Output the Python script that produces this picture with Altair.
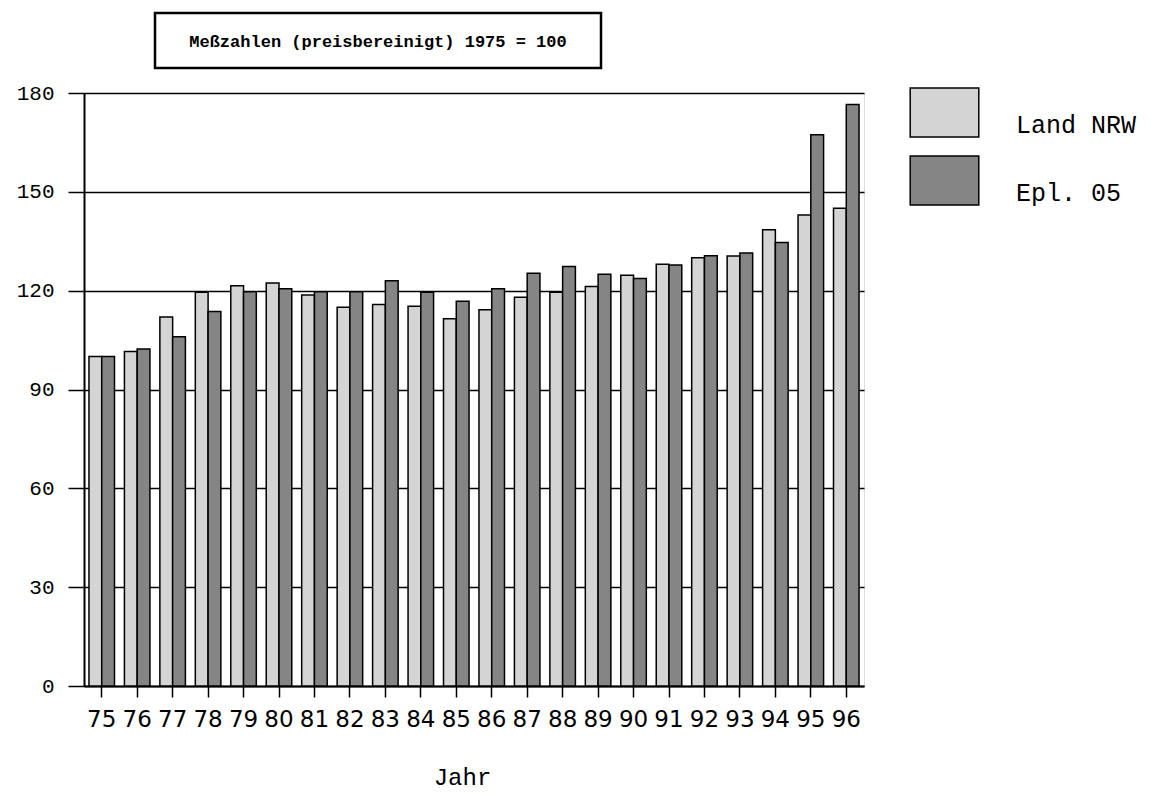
import altair as alt
import pandas as pd

years = ["75", "76", "77", "78", "79", "80", "81", "82", "83", "84", "85",
         "86", "87", "88", "89", "90", "91", "92", "93", "94", "95", "96"]
land_nrw = [100, 101.5, 112, 119.5, 121.5, 122.3, 118.7, 115, 115.8, 115.3, 111.5,
            114.2, 118, 119.5, 121.3, 124.7, 128, 130, 130.5, 138.5, 143, 145]
epl_05 = [100, 102.3, 106, 113.7, 119.7, 120.6, 119.7, 119.7, 123, 119.5, 116.8,
          120.6, 125.3, 127.3, 125, 123.7, 127.8, 130.6, 131.4, 134.6, 167.3, 176.5]
series = ["Land NRW", "Epl. 05"]
series_colors = ["#d4d4d4", "#858585"]
title_text = "Meßzahlen (preisbereinigt) 1975 = 100"

rows = []
for i, y in enumerate(years):
    rows.append({"Jahr": y, "Reihe": series[0], "Wert": land_nrw[i]})
    rows.append({"Jahr": y, "Reihe": series[1], "Wert": epl_05[i]})
df = pd.DataFrame(rows)

MONO = "Liberation Mono"

bars = alt.Chart(df).mark_bar(stroke="black", strokeWidth=1.5).encode(
    x=alt.X("Jahr:N", sort=years,
            scale=alt.Scale(paddingInner=0.28, paddingOuter=0.14),
            axis=alt.Axis(title="Jahr", labelAngle=0, labelFont="DejaVu Sans",
                          labelFontSize=23, labelColor="black", labelPadding=11,
                          tickSize=11, tickColor="black", tickWidth=1.5,
                          domainColor="black", domainWidth=2,
                          titleFont=MONO, titleFontSize=24, titleFontWeight="normal",
                          titleColor="black", titleX=378, titleY=91,
                          titleAlign="center", titleBaseline="middle", grid=False)),
    xOffset=alt.XOffset("Reihe:N", sort=series, scale=alt.Scale(paddingInner=0)),
    y=alt.Y("Wert:Q", scale=alt.Scale(domain=[0, 180], nice=False),
            axis=alt.Axis(title=None, values=[0, 30, 60, 90, 120, 150, 180],
                          labelFont=MONO, labelFontSize=21, labelColor="black",
                          labelPadding=14, tickSize=16, tickColor="black",
                          tickWidth=1.5, domainColor="black", domainWidth=2,
                          grid=True, gridColor="black", gridWidth=1.5,
                          gridOpacity=1)),
    fill=alt.Fill("Reihe:N", sort=series,
                  scale=alt.Scale(domain=series, range=series_colors),
                  legend=alt.Legend(title=None, orient="none", legendX=835, legendY=-6,
                                    symbolType="M-1.4,-1L1.4,-1L1.4,1L-1.4,1Z",
                                    symbolSize=2400, symbolStrokeColor="black",
                                    symbolStrokeWidth=1.5, labelFont=MONO,
                                    labelFontSize=25, labelColor="black",
                                    labelBaseline="top",
                                    labelOffset=46, rowPadding=13, padding=0,
                                    labelLimit=300)),
)

title_df = pd.DataFrame({"t": [title_text]})
box = alt.Chart(title_df).mark_rect(fill="white", stroke="black", strokeWidth=2.5).encode(
    x=alt.value(71), x2=alt.value(517), y=alt.value(-80), y2=alt.value(-25)
)
title = alt.Chart(title_df).mark_text(font=MONO, fontSize=17, fontWeight="bold",
                                       color="black", align="center",
                                       baseline="middle").encode(
    x=alt.value(294), y=alt.value(-51), text="t:N"
)

chart = alt.layer(bars, box, title).properties(
    width=780, height=593,
    autosize=alt.AutoSizeParams(type="none"),
    padding={"left": 76, "top": 85, "right": 285, "bottom": 104},
).configure_view(stroke=None).configure(background="white")

chart.save("out.html", embed_options={"renderer": "svg", "actions": False})
